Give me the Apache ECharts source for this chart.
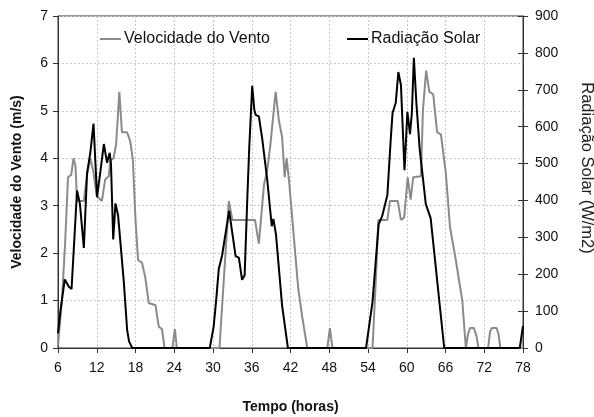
<!DOCTYPE html>
<html>
<head>
<meta charset="utf-8">
<script src="https://cdn.jsdelivr.net/npm/echarts@6/dist/echarts.min.js"></script>
<style>
  html, body { margin: 0; padding: 0; background: #fff; }
  #chart { width: 594px; height: 417px; }
</style>
</head>
<body>
<div id="chart"></div>
<script>
// Wind speed (m/s) against time (hours)
const windTime = [6.0, 6.6, 7.1, 7.55, 8.05, 8.4, 8.7, 8.95, 10.0, 10.5, 11.0, 11.5, 12.0, 12.8, 13.3, 13.85, 14.1, 14.6, 15.0, 15.5, 15.9, 16.7, 17.2, 17.6, 18.0, 18.4, 19.0, 19.5, 20.05, 21.1, 21.6, 22.1, 22.5, 23.7, 24.1, 24.4,
  31.0, 31.7, 32.45, 33.0, 36.5, 37.1, 37.9, 38.4, 38.9, 39.4, 39.7, 40.2, 40.7, 41.1, 41.4, 41.76, 43.2, 43.8, 44.6, 47.7, 48.1, 48.5,
  54.7, 55.2, 55.6, 57.0, 57.4, 58.6, 59.1, 59.6, 60.15, 60.6, 61.0, 62.2, 62.5, 63.0, 63.5, 64.1, 64.7, 65.3, 66.05, 66.7, 67.6, 68.6, 69.15, 69.5, 69.8, 70.4, 70.8, 71.1, 72.6, 72.9, 73.2, 73.9, 74.2, 74.5, 78.0];
const windSpeed = [0.05, 1.0, 2.2, 3.6, 3.65, 4.0, 3.85, 3.1, 3.1, 3.65, 4.0, 3.7, 3.2, 3.1, 3.55, 3.62, 3.95, 4.0, 4.3, 5.4, 4.55, 4.55, 4.35, 3.95, 2.7, 1.85, 1.8, 1.5, 0.95, 0.9, 0.45, 0.4, 0, 0, 0.4, 0,
  0, 1.5, 3.1, 2.7, 2.7, 2.2, 3.45, 3.75, 4.3, 5.0, 5.4, 4.8, 4.45, 3.6, 4.0, 3.55, 1.25, 0.67, 0, 0, 0.42, 0,
  0, 1.4, 2.7, 2.7, 3.1, 3.1, 2.7, 2.75, 3.6, 3.13, 3.6, 3.62, 5.0, 5.85, 5.4, 5.35, 4.55, 4.5, 3.69, 2.55, 1.85, 1.0, 0, 0.3, 0.42, 0.42, 0.25, 0, 0, 0.35, 0.42, 0.42, 0.3, 0, 0];

// Solar radiation (W/m2) against time (hours)
const radTime = [6.0, 6.4, 7.05, 7.65, 8.1, 8.95, 9.4, 10.0, 10.5, 11.0, 11.5, 12.05, 12.5, 13.1, 13.6, 14.0, 14.2, 14.55, 14.9, 15.3, 16.2, 16.7, 17.0, 17.5,
  29.5, 30.1, 30.5, 30.9, 31.4, 32.5, 33.5, 34.0, 34.5, 34.9, 35.3, 35.6, 36.07, 36.4, 36.6, 37.1, 37.6, 38.4, 39.1, 39.35, 39.75, 40.7, 41.6,
  53.7, 54.7, 55.65, 56.2, 57.0, 57.5, 57.8, 58.3, 58.7, 59.1, 59.65, 60.1, 60.5, 60.8, 61.1, 61.5, 62.0, 62.95, 63.7, 65.8, 77.5, 78.0];
const radValue = [40, 104, 186, 167, 160, 427, 390, 271, 474, 529, 608, 409, 470, 553, 502, 529, 500, 294, 392, 360, 177, 50, 18, 0,
  0, 58, 131, 215, 250, 372, 249, 245, 185, 197, 400, 538, 711, 645, 632, 628, 570, 456, 330, 350, 308, 115, 0,
  0, 125, 335, 358, 415, 560, 637, 665, 748, 713, 482, 640, 580, 640, 787, 662, 540, 390, 352, 0, 0, 60];

const xTicks = { min: 6, max: 78, step: 6 };
const leftTicks = { min: 0, max: 7, step: 1 };
const rightTicks = { min: 0, max: 900, step: 100 };

const zip = (a, b) => a.map((t, i) => [t, b[i]]);

const FONT = 'Arial, "Liberation Sans", sans-serif';
const AXIS_COLOR = '#333';
const TEXT_COLOR = '#111';
const gridDash = { color: '#c8c8c8', type: [2, 2], width: 1 };
const legendText = { fontFamily: FONT, fontSize: 16, color: TEXT_COLOR, padding: [0, 0, 0, -2] };

const chart = echarts.init(document.getElementById('chart'), null, { renderer: 'canvas' });
chart.setOption({
  animation: false,
  backgroundColor: '#fff',
  textStyle: { fontFamily: FONT },
  grid: {
    left: 58, right: 71, top: 16, bottom: 69,
    outerBoundsMode: 'none', containLabel: false,
    show: true, borderColor: AXIS_COLOR, borderWidth: 1
  },
  legend: [
    { data: ['Velocidade do Vento'], left: 95, top: 26, icon: 'rect', itemWidth: 21, itemHeight: 2, itemGap: 0, textStyle: legendText },
    { data: ['Radiação Solar'], left: 342, top: 26, icon: 'rect', itemWidth: 21, itemHeight: 2, itemGap: 0, textStyle: legendText }
  ],
  graphic: [
    {
      type: 'text', x: 587, y: 168, rotation: -Math.PI / 2, silent: true,
      style: { text: 'Radiação Solar (W/m2)', font: '16.5px Arial, "Liberation Sans", sans-serif',
               fill: '#222', align: 'center', verticalAlign: 'middle' }
    }
  ],
  xAxis: {
    type: 'value', min: xTicks.min, max: xTicks.max, interval: xTicks.step,
    name: 'Tempo (horas)', nameLocation: 'middle', nameGap: 52,
    nameTextStyle: { fontFamily: FONT, fontSize: 14, fontWeight: 'bold', color: TEXT_COLOR },
    axisLine: { lineStyle: { color: AXIS_COLOR } },
    axisTick: { show: true, length: 5, lineStyle: { color: AXIS_COLOR } },
    axisLabel: { fontFamily: FONT, fontSize: 14, color: TEXT_COLOR, margin: 13 },
    splitLine: { show: true, lineStyle: gridDash }
  },
  yAxis: [
    {
      type: 'value', position: 'left', min: leftTicks.min, max: leftTicks.max, interval: leftTicks.step,
      name: 'Velocidade do Vento (m/s)', nameLocation: 'middle', nameGap: 34,
      nameTextStyle: { fontFamily: FONT, fontSize: 14, fontWeight: 'bold', color: TEXT_COLOR },
      axisLine: { show: true, lineStyle: { color: AXIS_COLOR } },
      axisTick: { show: true, length: 5, lineStyle: { color: AXIS_COLOR } },
      axisLabel: { fontFamily: FONT, fontSize: 14, color: TEXT_COLOR, margin: 10 },
      splitLine: { show: true, lineStyle: gridDash }
    },
    {
      type: 'value', position: 'right', min: rightTicks.min, max: rightTicks.max, interval: rightTicks.step,
      axisLine: { show: true, lineStyle: { color: AXIS_COLOR } },
      axisTick: { show: true, length: 5, lineStyle: { color: AXIS_COLOR } },
      axisLabel: { fontFamily: FONT, fontSize: 14, color: TEXT_COLOR, margin: 12 },
      splitLine: { show: false }
    },
    {
      // inner half of the crossing ticks on the radiation axis
      type: 'value', position: 'right', min: rightTicks.min, max: rightTicks.max, interval: rightTicks.step,
      axisLine: { show: false },
      axisTick: { show: true, inside: true, length: 5, lineStyle: { color: AXIS_COLOR } },
      axisLabel: { show: false },
      splitLine: { show: false }
    }
  ],
  series: [
    {
      name: 'Velocidade do Vento', type: 'line', yAxisIndex: 0,
      data: zip(windTime, windSpeed),
      showSymbol: false, symbol: 'none',
      lineStyle: { color: '#8a8a8a', width: 2 }, itemStyle: { color: '#8a8a8a' }
    },
    {
      name: 'Radiação Solar', type: 'line', yAxisIndex: 1,
      data: zip(radTime, radValue),
      showSymbol: false, symbol: 'none',
      lineStyle: { color: '#000', width: 2 }, itemStyle: { color: '#000' }
    }
  ]
});
</script>
</body>
</html>
